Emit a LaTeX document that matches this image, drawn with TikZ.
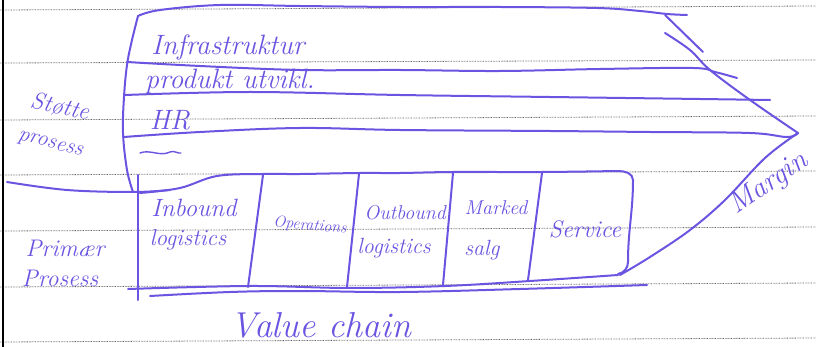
\documentclass[tikz,border=0pt]{standalone}
\usepackage{fontspec}
\definecolor{ink}{RGB}{105,85,225}
\definecolor{rulegray}{RGB}{90,90,90}
\begin{document}
\begin{tikzpicture}[x=1pt,y=-1pt,
  pen/.style={draw=ink,line width=2pt,line cap=round,line join=round},
  thinpen/.style={draw=ink,line width=1.4pt,line cap=round,line join=round},
  hand/.style={text=ink,inner sep=0pt,anchor=center,font=\itshape\fontsize{#1}{#1}\selectfont},
  ruled/.style={draw=rulegray,line width=0.8pt,dash pattern=on 0.7pt off 0.9pt}]
\useasboundingbox (0,0) rectangle (816,347);
\fill[white] (0,0) rectangle (816,347);

% ruled paper and margin line
\foreach \a/\b in {10/6,63/60,120/116,175/171,231/227,287/283,342/338}
  \draw[ruled] (0,\a) -- (816,\b);
\draw[black,line width=1.5pt] (3,0) -- (3,347);

% support activities: outline and rows
\draw[pen] plot[smooth,tension=0.6] coordinates {(138,16) (160,10) (220,5) (300,6) (400,7) (500,7) (597,8) (640,11) (667,14) (687,15)};
\draw[pen] plot[smooth,tension=0.6] coordinates {(138,16) (132,40) (127,65) (124,97) (123,133) (127,170) (133,192)};
\draw[pen] plot[smooth,tension=0.6] coordinates {(127,62) (200,66) (300,70) (400,70) (500,71) (600,69) (693,68) (715,72) (737,78)};
\draw[pen] plot[smooth,tension=0.6] coordinates {(125,95) (250,92) (400,95) (550,97) (700,99) (770,100)};
\draw[pen] plot[smooth,tension=0.6] coordinates {(124,137) (200,132) (300,128) (400,130) (550,131) (650,132) (750,133) (787,137) (798,133)};
\draw[pen] plot[smooth,tension=0.6] coordinates {(7,182) (67,190) (133,192) (170,190)};

% arrow head (margin)
\draw[pen] (665,15) -- (703,52);
\draw[pen] plot[smooth,tension=0.6] coordinates {(665,33) (690,50) (710,70) (750,100) (798,133)};
\draw[pen] plot[smooth,tension=0.6] coordinates {(798,133) (765,158) (725,200) (690,230) (650,257) (620,275)};

% primary activities: boxes
\draw[pen] (138,175) -- (138,300);
\draw[pen] plot[smooth,tension=0.6] coordinates {(140,193) (180,188) (217,176) (263,174) (300,174) (360,173) (400,173) (453,172) (542,172) (618,171)};
\draw[pen] (618,171) to[out=0,in=90] (633,180) to[out=-90,in=90] (628,262) to[out=-90,in=10] (618,274);
\draw[pen] (263,175) -- (248,287);
\draw[pen] (359,174) -- (347,287);
\draw[pen] (453,173) -- (443,285);
\draw[pen] (542,173) -- (528,280);
\draw[pen] plot[smooth,tension=0.6] coordinates {(128,289) (250,286) (350,288) (445,286) (530,281) (618,275)};
\draw[pen] plot[smooth,tension=0.6] coordinates {(150,296) (230,292) (300,291) (400,292) (520,289) (647,285)};

% texts of the support rows
\node[hand=28] (infra) at (228,48) {Infrastruktur};
\node[hand=28] (prod) at (230,82) {produkt utvikl.};
\node[hand=28] (hr) at (170,120) {HR};
\draw[thinpen] (140,153) .. controls (150,149) and (160,157) .. (170,152) .. controls (174,150) and (178,154) .. (181,153);

% side labels
\node[hand=24,rotate=-12] (stotte) at (60,107) {Støtte};
\node[hand=22,rotate=-15] (prosess1) at (50,145) {prosess};
\node[hand=24] (primaer) at (65,248) {Primær};
\node[hand=24] (prosess2) at (60,278) {Prosess};

% texts of the primary boxes
\node[hand=25] (inb) at (194,208) {Inbound};
\node[hand=23] (inlog) at (188,240) {logistics};
\node[hand=16,rotate=-5] (ops) at (310,226) {Operations};
\node[hand=20] (outb) at (405,213) {Outbound};
\node[hand=22] (outlog) at (394,248) {logistics};
\node[hand=20] (mark) at (496,208) {Marked};
\node[hand=22] (salg) at (482,250) {salg};
\node[hand=24] (serv) at (585,229) {Service};

\node[hand=29,rotate=35] (margin) at (769,184) {Margin};
\node[hand=36] (vc) at (321,325) {Value chain};
\end{tikzpicture}
\end{document}
